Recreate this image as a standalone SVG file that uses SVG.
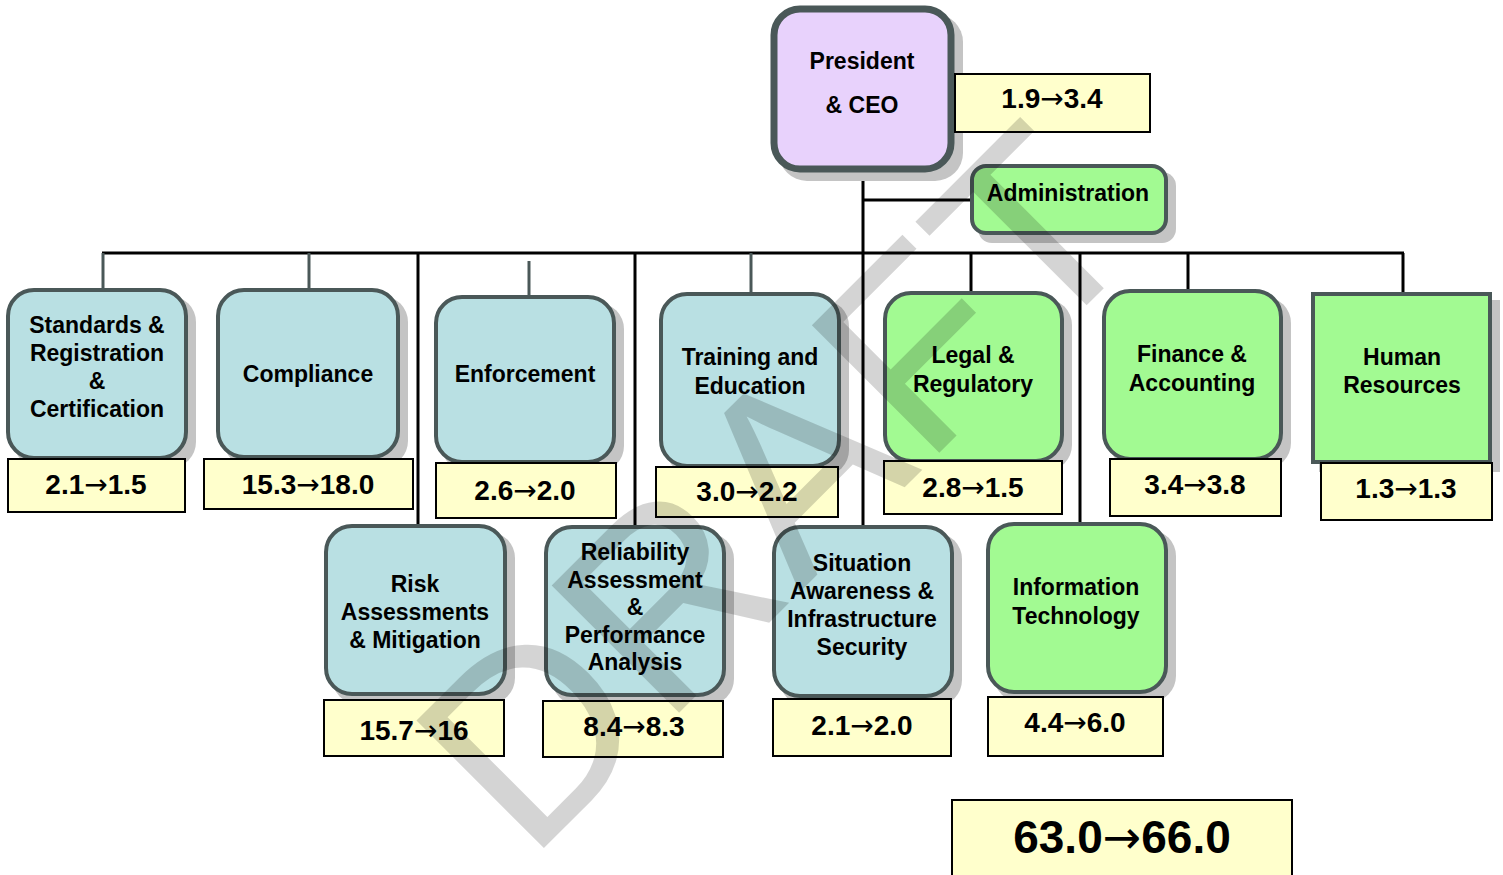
<svg xmlns="http://www.w3.org/2000/svg" width="1503" height="875" viewBox="0 0 1503 875">
<style>
.sh{fill:#c4c4c4}
.n{stroke:#4a5858;stroke-width:4}
.teal{fill:#b9e0e3}
.green{fill:#a2fa92}
.lav{fill:#e8d2fc}
.v{fill:#ffffcc;stroke:#000;stroke-width:2}
.t{font-family:"Liberation Sans",Arial,sans-serif;font-weight:bold;font-size:23px;fill:#000;text-anchor:middle}
.vt{font-family:"Liberation Sans",Arial,sans-serif;font-weight:bold;font-size:28px;fill:#000;text-anchor:middle}
.ar{font-family:"DejaVu Sans",sans-serif;font-weight:normal}
.c{stroke:#000;stroke-width:3;fill:none}
.cg{stroke:#4a5858;stroke-width:3;fill:none}
.wm{font-family:"Liberation Sans",Arial,sans-serif;font-size:262px;letter-spacing:2px;fill:#000;fill-opacity:0.17;text-anchor:middle}
</style>
<rect width="1503" height="875" fill="#fff"/>
<g id="connectors">
<line class="c" x1="863" y1="172" x2="863" y2="528"/>
<line class="c" x1="863" y1="200" x2="972" y2="200"/>
<line class="c" x1="102" y1="253" x2="1404" y2="253"/>
<line class="cg" x1="103" y1="253" x2="103" y2="290"/>
<line class="cg" x1="309" y1="253" x2="309" y2="290"/>
<line class="cg" x1="529" y1="261" x2="529" y2="297"/>
<line class="cg" x1="751" y1="253" x2="751" y2="294"/>
<line class="c" x1="418" y1="253" x2="418" y2="526"/>
<line class="c" x1="635" y1="253" x2="635" y2="527"/>
<line class="c" x1="971" y1="253" x2="971" y2="293"/>
<line class="c" x1="1080" y1="253" x2="1080" y2="524"/>
<line class="c" x1="1188" y1="253" x2="1188" y2="291"/>
<line class="c" x1="1403" y1="253" x2="1403" y2="294"/>
</g>
<g id="president">
<rect class="sh" x="779" y="14" width="184" height="167" rx="28"/>
<rect class="lav" x="774" y="9" width="177" height="160" rx="26" stroke="#4a5858" stroke-width="7"/>
<text class="t" x="862" y="69">President</text>
<text class="t" x="862" y="113">&amp; CEO</text>
<rect class="v" x="955" y="74" width="195" height="58"/>
<text class="vt" x="1052" y="108">1.9<tspan class="ar">→</tspan>3.4</text>
</g>
<g id="administration">
<rect class="sh" x="978" y="172" width="198" height="71" rx="14"/>
<rect class="n green" x="972" y="166" width="194" height="67" rx="14"/>
<text class="t" x="1068" y="201">Administration</text>
</g>
<g id="standards">
<rect class="sh" x="14" y="296" width="182" height="172" rx="26"/>
<rect class="n teal" x="8" y="290" width="178" height="168" rx="26"/>
<text class="t" x="97" y="333">Standards &amp;</text>
<text class="t" x="97" y="361">Registration</text>
<text class="t" x="97" y="389">&amp;</text>
<text class="t" x="97" y="417">Certification</text>
<rect class="v" x="8" y="459" width="177" height="53"/>
<text class="vt" x="96" y="494">2.1<tspan class="ar">→</tspan>1.5</text>
</g>
<g id="compliance">
<rect class="sh" x="224" y="296" width="184" height="171" rx="26"/>
<rect class="n teal" x="218" y="290" width="180" height="167" rx="26"/>
<text class="t" x="308" y="382">Compliance</text>
<rect class="v" x="204" y="459" width="209" height="50"/>
<text class="vt" x="308" y="494">15.3<tspan class="ar">→</tspan>18.0</text>
</g>
<g id="enforcement">
<rect class="sh" x="442" y="303" width="182" height="169" rx="26"/>
<rect class="n teal" x="436" y="297" width="178" height="165" rx="26"/>
<text class="t" x="525" y="382">Enforcement</text>
<rect class="v" x="436" y="463" width="180" height="55"/>
<text class="vt" x="525" y="500">2.6<tspan class="ar">→</tspan>2.0</text>
</g>
<g id="training">
<rect class="sh" x="667" y="300" width="182" height="176" rx="26"/>
<rect class="n teal" x="661" y="294" width="178" height="172" rx="26"/>
<text class="t" x="750" y="365">Training and</text>
<text class="t" x="750" y="394">Education</text>
<rect class="v" x="656" y="467" width="182" height="50"/>
<text class="vt" x="747" y="501">3.0<tspan class="ar">→</tspan>2.2</text>
</g>
<g id="legal">
<rect class="sh" x="891" y="299" width="181" height="172" rx="26"/>
<rect class="n green" x="885" y="293" width="177" height="168" rx="26"/>
<text class="t" x="973" y="363">Legal &amp;</text>
<text class="t" x="973" y="392">Regulatory</text>
<rect class="v" x="884" y="461" width="178" height="53"/>
<text class="vt" x="973" y="497">2.8<tspan class="ar">→</tspan>1.5</text>
</g>
<g id="finance">
<rect class="sh" x="1110" y="297" width="181" height="172" rx="26"/>
<rect class="n green" x="1104" y="291" width="177" height="168" rx="26"/>
<text class="t" x="1192" y="362">Finance &amp;</text>
<text class="t" x="1192" y="391">Accounting</text>
<rect class="v" x="1110" y="459" width="171" height="57"/>
<text class="vt" x="1195" y="494">3.4<tspan class="ar">→</tspan>3.8</text>
</g>
<g id="hr">
<rect class="sh" x="1319" y="300" width="181" height="172"/>
<rect class="n green" x="1313" y="294" width="177" height="168"/>
<text class="t" x="1402" y="365">Human</text>
<text class="t" x="1402" y="393">Resources</text>
<rect class="v" x="1321" y="463" width="171" height="57"/>
<text class="vt" x="1406" y="498">1.3<tspan class="ar">→</tspan>1.3</text>
</g>
<g id="risk">
<rect class="sh" x="332" y="532" width="183" height="172" rx="26"/>
<rect class="n teal" x="326" y="526" width="179" height="168" rx="26"/>
<text class="t" x="415" y="592">Risk</text>
<text class="t" x="415" y="620">Assessments</text>
<text class="t" x="415" y="648">&amp; Mitigation</text>
<rect class="v" x="324" y="700" width="180" height="56"/>
<text class="vt" x="414" y="740">15.7<tspan class="ar">→</tspan>16</text>
</g>
<g id="reliability">
<rect class="sh" x="552" y="533" width="182" height="172" rx="26"/>
<rect class="n teal" x="546" y="527" width="178" height="168" rx="26"/>
<text class="t" x="635" y="560">Reliability</text>
<text class="t" x="635" y="588">Assessment</text>
<text class="t" x="635" y="615">&amp;</text>
<text class="t" x="635" y="643">Performance</text>
<text class="t" x="635" y="670">Analysis</text>
<rect class="v" x="543" y="701" width="180" height="56"/>
<text class="vt" x="634" y="736">8.4<tspan class="ar">→</tspan>8.3</text>
</g>
<g id="situation">
<rect class="sh" x="780" y="533" width="182" height="173" rx="26"/>
<rect class="n teal" x="774" y="527" width="178" height="169" rx="26"/>
<text class="t" x="862" y="571">Situation</text>
<text class="t" x="862" y="599">Awareness &amp;</text>
<text class="t" x="862" y="627">Infrastructure</text>
<text class="t" x="862" y="655">Security</text>
<rect class="v" x="773" y="699" width="178" height="57"/>
<text class="vt" x="862" y="735">2.1<tspan class="ar">→</tspan>2.0</text>
</g>
<g id="it">
<rect class="sh" x="994" y="530" width="182" height="172" rx="26"/>
<rect class="n green" x="988" y="524" width="178" height="168" rx="26"/>
<text class="t" x="1076" y="595">Information</text>
<text class="t" x="1076" y="624">Technology</text>
<rect class="v" x="988" y="697" width="175" height="59"/>
<text class="vt" x="1075" y="732">4.4<tspan class="ar">→</tspan>6.0</text>
</g>
<g id="total">
<rect class="v" x="952" y="800" width="340" height="90"/>
<text class="vt" x="1122" y="853" style="font-size:46px">63.0<tspan class="ar">→</tspan>66.0</text>
</g>
<g id="watermark">
<text class="wm" transform="translate(841,551) rotate(-45)" x="0" y="0">DRAFT</text>
</g>
</svg>
